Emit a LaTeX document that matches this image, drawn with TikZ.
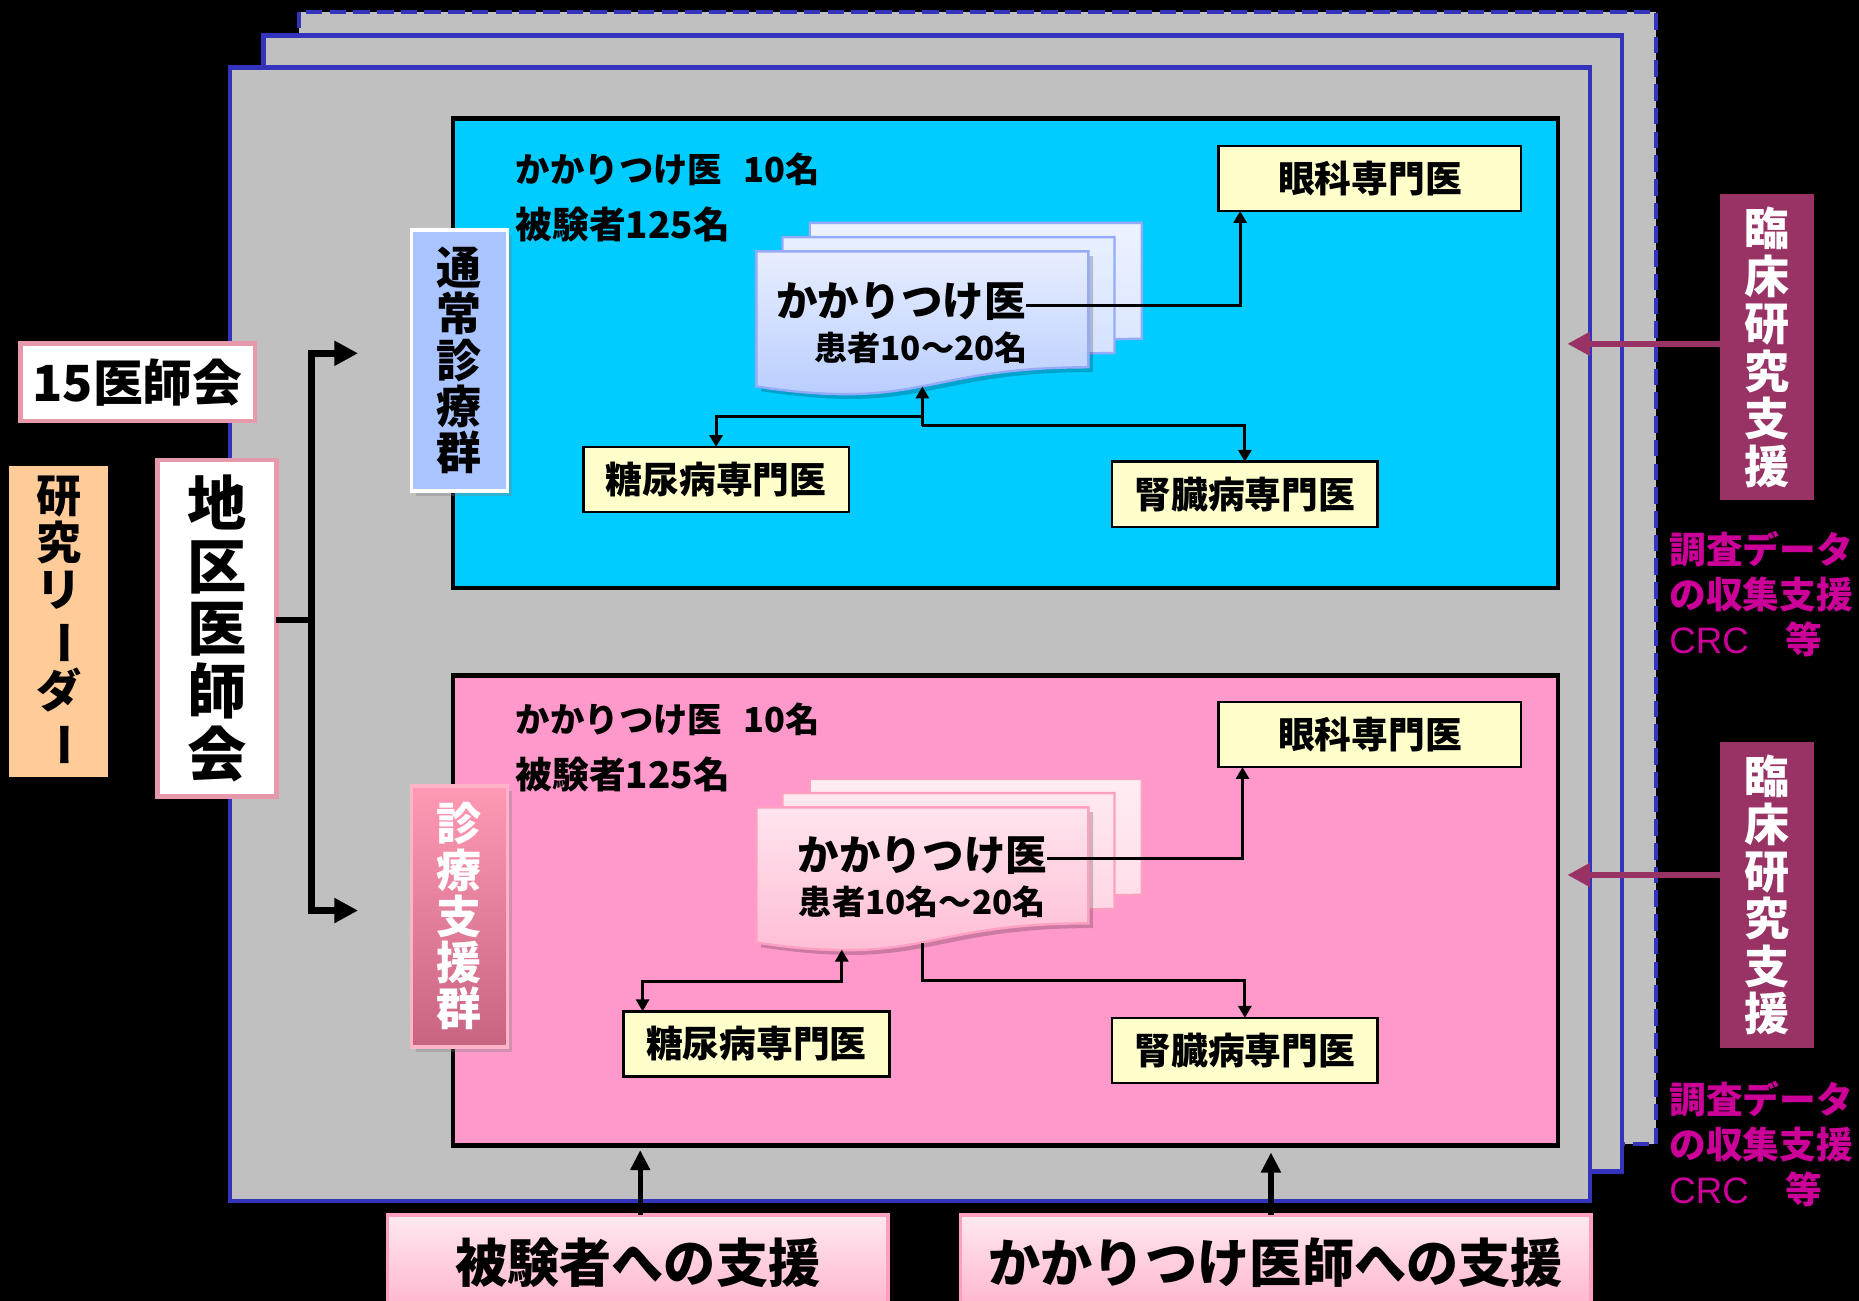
\documentclass[tikz,border=0pt]{standalone}
\usepackage{fontspec}
\usepackage{graphicx}
\setmainfont{Noto Sans CJK JP}
\newfontfamily\arialf{Liberation Sans}
\usetikzlibrary{arrows.meta,shadows,calc}
\definecolor{gframe}{RGB}{192,192,192}
\definecolor{bframe}{RGB}{51,51,187}
\definecolor{cyanbox}{RGB}{0,204,255}
\definecolor{pinkbox}{RGB}{255,153,204}
\definecolor{yfill}{RGB}{255,255,204}
\definecolor{tsujoc}{RGB}{170,196,255}
\definecolor{rinshoc}{RGB}{153,51,102}
\definecolor{magtext}{RGB}{204,0,153}
\definecolor{peach}{RGB}{255,204,153}
\definecolor{pinkborder}{RGB}{230,153,170}
\definecolor{docbdr}{RGB}{150,170,250}
\definecolor{docpbdr}{RGB}{255,160,195}
\newcommand\fs[2]{\fontsize{#1}{#2}\selectfont\bfseries}
\newcommand\vbar{\rotatebox[origin=c]{-90}{ー}}
\begin{document}
\begin{tikzpicture}[x=0.5pt,y=-0.5pt,
  every node/.style={inner sep=0pt, outer sep=0pt},
  ybox/.style={draw=black, line width=1.1pt, fill=yfill, minimum height=27.5pt, font=\fs{15.5pt}{18pt}},
  conn/.style={line width=1.2pt, -{Triangle[length=5pt,width=5.5pt]}},
  bigarr/.style={line width=2.8pt, -{Triangle[length=10pt,width=10pt]}},
  purarr/.style={draw=rinshoc, line width=2.8pt, -{Triangle[length=9.5pt,width=9.5pt]}, fill=rinshoc},
  uparr/.style={line width=2.2pt, -{Triangle[length=8.5pt,width=8pt]}},
  vlabel/.style={minimum width=40.5pt, minimum height=110pt, align=center, font=\fs{19pt}{19.5pt}},
  shad/.style={drop shadow={opacity=0.35, shadow xshift=2pt, shadow yshift=-2pt}}
]
\clip (0,0) rectangle (1568,1097);
\fill[black] (0,0) rectangle (1568,1097);
% frames
\draw[draw=bframe, line width=1.7pt, dash pattern=on 7pt off 3pt, fill=gframe] (252,10) rectangle (1397,965);
\draw[draw=bframe, line width=2pt, fill=gframe] (222,30) rectangle (1368,988);
\draw[draw=bframe, line width=2pt, fill=gframe] (194,57) rectangle (1341,1013);
% group boxes
\draw[line width=2pt, fill=cyanbox] (382,100) rectangle (1314,496);
\draw[line width=2pt, fill=pinkbox] (382,570) rectangle (1314,966);
% header texts
\node[anchor=west, font=\fs{14.5pt}{17pt}] (c1a) at (435,143) {かかりつけ医\hspace{9pt}10名};
\node[anchor=west, font=\fs{15.5pt}{17pt}] (c1b) at (435,189) {被験者125名};
\node[anchor=west, font=\fs{14.5pt}{17pt}] (c2a) at (435,607) {かかりつけ医\hspace{9pt}10名};
\node[anchor=west, font=\fs{15.5pt}{17pt}] (c2b) at (435,653) {被験者125名};
% document stacks (blue)
\shade[top color={rgb,255:red,236;green,242;blue,255}, bottom color={rgb,255:red,214;green,226;blue,255}, draw=docbdr, line width=1pt]
  (683,188) -- (963,188) -- (963,285.8) .. controls (823,285.8) and (823,323.1) .. (683,302) -- cycle;
\shade[top color={rgb,255:red,232;green,240;blue,255}, bottom color={rgb,255:red,205;green,220;blue,255}, draw=docbdr, line width=1pt]
  (660,200) -- (940,200) -- (940,297.8) .. controls (800,297.8) and (800,335.1) .. (660,314) -- cycle;
\fill[black, opacity=0.2] (642,216) -- (922,216) -- (922,313.8) .. controls (782,313.8) and (782,351.1) .. (642,330) -- cycle;
\shade[top color={rgb,255:red,232;green,238;blue,255}, bottom color={rgb,255:red,180;green,202;blue,255}, draw=docbdr, line width=1pt]
  (638,212) -- (918,212) -- (918,309.8) .. controls (778,309.8) and (778,347.1) .. (638,326) -- cycle;
% document stacks (pink)
\shade[top color={rgb,255:red,255;green,236;blue,243}, bottom color={rgb,255:red,255;green,216;blue,230}, draw=docpbdr, line width=1pt]
  (683,657) -- (963,657) -- (963,754.8) .. controls (823,754.8) and (823,792.1) .. (683,771) -- cycle;
\shade[top color={rgb,255:red,255;green,232;blue,240}, bottom color={rgb,255:red,255;green,208;blue,224}, draw=docpbdr, line width=1pt]
  (660,669) -- (940,669) -- (940,766.8) .. controls (800,766.8) and (800,804.1) .. (660,783) -- cycle;
\fill[black, opacity=0.2] (642,685) -- (922,685) -- (922,782.8) .. controls (782,782.8) and (782,820.1) .. (642,799) -- cycle;
\shade[top color={rgb,255:red,255;green,228;blue,238}, bottom color={rgb,255:red,255;green,185;blue,210}, draw=docpbdr, line width=1pt]
  (638,681) -- (918,681) -- (918,778.8) .. controls (778,778.8) and (778,816.1) .. (638,795) -- cycle;
\node[font=\fs{17.5pt}{20pt}] (kk1) at (760,254) {かかりつけ医};
\node[font=\fs{14pt}{16pt}] (pt1) at (777,293) {患者10～20名};
\node[font=\fs{17.5pt}{20pt}] (kk2) at (778,722) {かかりつけ医};
\node[font=\fs{14pt}{16pt}] (pt2) at (778,761) {患者10名～20名};
% specialist boxes
\node[ybox, minimum width=127.5pt] (ganka1) at (1155.5,150.5) {眼科専門医};
\node[ybox, minimum width=112pt] (tou1) at (604,404.5) {糖尿病専門医};
\node[ybox, minimum width=112pt] (jin1) at (1050,417) {腎臓病専門医};
\node[ybox, minimum width=127.5pt] (ganka2) at (1155.5,619.5) {眼科専門医};
\node[ybox, minimum width=112pt] (tou2) at (638,880.5) {糖尿病専門医};
\node[ybox, minimum width=112pt] (jin2) at (1050,886) {腎臓病専門医};
% connectors (blue group)
\coordinate (d1b) at (778,326);
\coordinate (j1) at (778,359);
\coordinate (j1b) at (778,351);
\draw[conn] ([yshift=-2pt]kk1.east) -| ([xshift=9pt]ganka1.south west);
\draw[conn] (j1) -- (d1b);
\draw[conn] (j1) -| (jin1.north);
\draw[conn] (j1b) -| (tou1.north);
% connectors (pink group)
\coordinate (d2a) at (710,801);
\coordinate (j2a) at (710,828);
\coordinate (d2b) at (778,795);
\coordinate (j2b) at (778,827);
\draw[conn] ([yshift=-1pt]kk2.east) -| ([xshift=10pt]ganka2.south west);
\draw[line width=1.2pt, {Triangle[length=5pt,width=5.5pt]}-{Triangle[length=5pt,width=5.5pt]}] (d2a) -- (j2a) -| ([xshift=8pt]tou2.north west);
\draw[conn] (d2b) -- (j2b) -| (jin2.north);
% group labels
\node[vlabel, draw=white, line width=1.5pt, fill=tsujoc, shad] (tsujo) at (387.5,304) {通\\常\\診\\療\\群};
\node[vlabel, draw={rgb,255:red,255;green,180;blue,200}, line width=1.5pt, top color={rgb,255:red,255;green,153;blue,180}, bottom color={rgb,255:red,200;green,100;blue,128}, text=white, shad] (shien) at (387.5,773) {診\\療\\支\\援\\群};
% left side
\node[draw=pinkborder, line width=2pt, fill=white, minimum width=99pt, minimum height=32.5pt, font=\fs{21pt}{24pt}] (juugo) at (116,322.5) {15医師会};
\node[fill=peach, minimum width=41.5pt, minimum height=131pt, align=center, font=\fs{19pt}{20pt}] (leader) at (49.5,524) {研\\究\\リ\\\vbar\\ダ\\\vbar};
\node[draw=pinkborder, line width=2pt, fill=white, minimum width=50pt, minimum height=142pt, align=center, font=\fs{25pt}{26.5pt}] (chiku) at (183,530) {地\\区\\医\\師\\会};
\coordinate (br) at (263,523);
\coordinate (g1) at (302,298);
\coordinate (g2) at (302,768);
\draw[line width=2.8pt] (chiku.east |- br) -- (br);
\draw[bigarr] (br) |- (g1);
\draw[bigarr] (br) |- (g2);
% right side
\node[fill=rinshoc, minimum width=39.5pt, minimum height=129pt, align=center, text=white, font=\fs{19pt}{20pt}] (rinsho1) at (1490.5,293) {臨\\床\\研\\究\\支\\援};
\node[fill=rinshoc, minimum width=39.5pt, minimum height=129pt, align=center, text=white, font=\fs{19pt}{20pt}] (rinsho2) at (1490.5,755) {臨\\床\\研\\究\\支\\援};
\coordinate (p1) at (1322,290);
\coordinate (p2) at (1322,738);
\draw[purarr] (rinsho1.west |- p1) -- (p1);
\draw[purarr] (rinsho2.west |- p2) -- (p2);
\node[anchor=west, align=left, text=magtext, font=\fs{15.5pt}{19pt}] (chosa1) at (1408,501) {調査データ\\の収集支援\\{\mdseries\arialf CRC}　等};
\node[anchor=west, align=left, text=magtext, font=\fs{15.5pt}{19pt}] (chosa2) at (1408,965) {調査データ\\の収集支援\\{\mdseries\arialf CRC}　等};
% bottom
\node[draw={rgb,255:red,255;green,160;blue,190}, line width=1.5pt, top color={rgb,255:red,255;green,232;blue,240}, bottom color={rgb,255:red,255;green,180;blue,205}, minimum width=211pt, minimum height=40pt, font=\fs{22pt}{24pt}] (hiken) at (538,1065) {被験者への支援};
\node[draw={rgb,255:red,255;green,160;blue,190}, line width=1.5pt, top color={rgb,255:red,255;green,232;blue,240}, bottom color={rgb,255:red,255;green,180;blue,205}, minimum width=266pt, minimum height=40pt, font=\fs{22pt}{24pt}] (kshien) at (1076,1065) {かかりつけ医師への支援};
\coordinate (u1) at (540,970);
\coordinate (u2) at (1072,972);
\draw[uparr] (hiken.north -| u1) -- (u1);
\draw[uparr] (kshien.north -| u2) -- (u2);
\end{tikzpicture}
\end{document}
